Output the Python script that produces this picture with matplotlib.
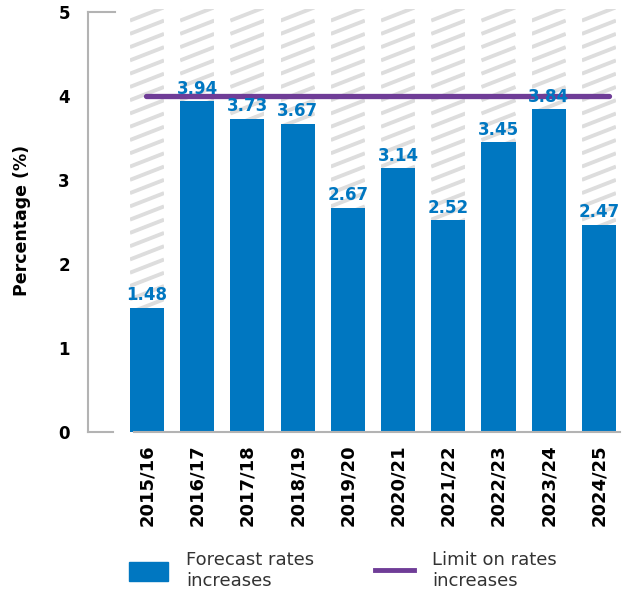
import numpy as np
import matplotlib
matplotlib.use('Agg')
import matplotlib.pyplot as plt
from matplotlib.patches import Patch
from matplotlib.lines import Line2D

# Forecast rate increases per year and the cap on them
years = ['2015/16', '2016/17', '2017/18', '2018/19', '2019/20',
         '2020/21', '2021/22', '2022/23', '2023/24', '2024/25']
forecast = [1.48, 3.94, 3.73, 3.67, 2.67, 3.14, 2.52, 3.45, 3.84, 2.47]
limit = 4
yticks = [0, 1, 2, 3, 4, 5]

blue = '#0077C1'
purple = '#6F3D97'
grey = '#B3B3B3'
stripe = '#DDDDDD'

plt.rcParams['font.family'] = 'DejaVu Sans'

fig = plt.figure(figsize=(6.35, 5.92), dpi=100)
# axes box in pixels: left 88, right 620, bottom 432, top 9
ax = fig.add_axes([88 / 635, (592 - 432) / 592, (620 - 88) / 635, (432 - 9) / 592])
ytop = 5.036
ax.set_ylim(0, ytop)
ax.set_xlim(-1.175, 9.42)

x = np.arange(len(years))
width = 0.68

# striped background columns behind the bars
bg = ax.bar(x, ytop, width=width, color='white', zorder=1)
period = 0.158
for rect in bg:
    x0 = rect.get_x()
    x1 = x0 + rect.get_width()
    for y0 in np.arange(-period, ytop + period, period):
        ln, = ax.plot([x0, x1], [y0, y0 + period], color=stripe, lw=2.8,
                      solid_capstyle='butt', zorder=2)
        ln.set_clip_path(rect)

bars = ax.bar(x, forecast, width=width, color=blue, zorder=3)
for xi, v in zip(x, forecast):
    ax.annotate(f'{v:.2f}', (xi, v), xytext=(0, 2.5), textcoords='offset points',
                ha='center', va='bottom', color=blue, fontsize=12,
                fontweight='bold', zorder=5)

# rate limit line
ax.plot([-0.02, 9.2], [limit, limit], color=purple, lw=3.8,
        solid_capstyle='round', zorder=4)

# axis styling
for s in ['top', 'right', 'bottom']:
    ax.spines[s].set_visible(False)
ax.spines['left'].set_color(grey)
ax.spines['left'].set_linewidth(1.5)
ax.spines['left'].set_bounds(0, 5)
ax.axhline(5, xmin=0, xmax=27 / 532, color=grey, lw=1.5, clip_on=False)
ax.axhline(0, xmin=0, xmax=25 / 532, color=grey, lw=1.5, clip_on=False)
ax.axhline(0, xmin=(134 - 88) / 532, xmax=1, color=grey, lw=1.5,
           clip_on=False, zorder=4)

ax.set_yticks(yticks)
ax.set_yticklabels([str(t) for t in yticks], fontsize=12, fontweight='bold')
ax.tick_params(axis='y', length=0, pad=13)
ax.set_xticks(x)
ax.set_xticklabels(years, rotation=90, fontsize=13, fontweight='bold')
ax.tick_params(axis='x', length=0, pad=9)
ax.set_ylabel('Percentage (%)', fontsize=12.5, fontweight='bold', labelpad=20)

handles = [Patch(color=blue), Line2D([], [], color=purple, lw=3.5)]
fig.legend(handles, ['Forecast rates\nincreases', 'Limit on rates\nincreases'],
           loc='center', bbox_to_anchor=(0.54, 0.036), ncol=2, frameon=False,
           fontsize=13, handlelength=2.15, handleheight=1.2, handletextpad=1.0,
           columnspacing=3.4, labelspacing=0.3, labelcolor='#333333')

fig.savefig('out.png', dpi=100)
